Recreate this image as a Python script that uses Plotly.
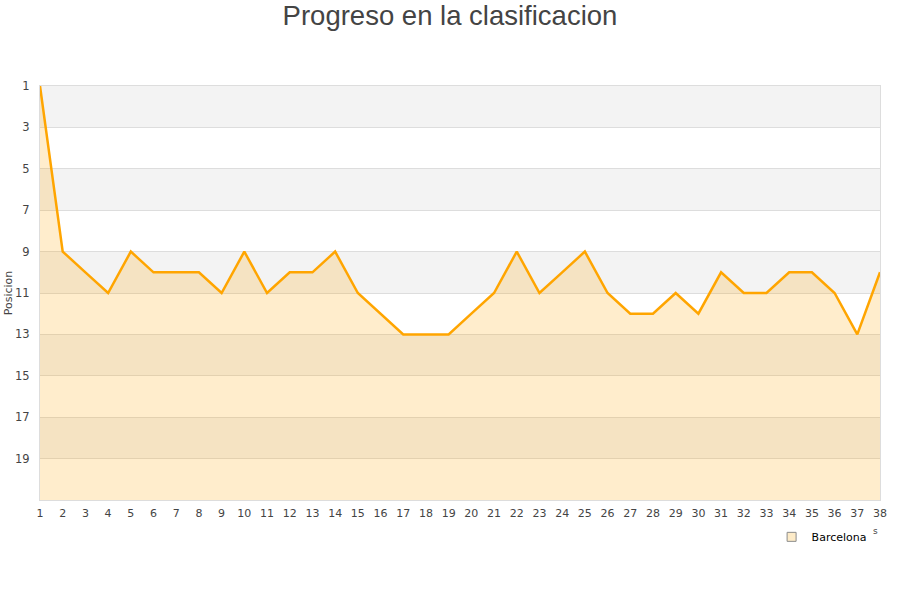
import plotly.graph_objects as go

jornadas = list(range(1, 39))
posiciones = [1, 9, 10, 11, 9, 10, 10, 10, 11, 9, 11, 10, 10, 9, 11, 12, 13, 13, 13, 12,
              11, 9, 11, 10, 9, 11, 12, 12, 11, 12, 10, 11, 11, 10, 10, 11, 13, 10]
equipo = "Barcelona"
y_ticks = list(range(1, 21, 2))
y_bottom = 21
band_starts = [1, 5, 9, 13, 17]

fig = go.Figure()
fig.add_trace(go.Scatter(x=jornadas, y=[y_bottom] * len(jornadas), mode="lines",
                         line=dict(width=0, color="rgba(0,0,0,0)"), showlegend=False,
                         hoverinfo="skip"))
fig.add_trace(go.Scatter(x=jornadas, y=posiciones, mode="lines", name=equipo,
                         line=dict(color="#FFA500", width=2.5), showlegend=False,
                         fill="tonexty", fillcolor="rgba(255,165,0,0.2)"))
# legend-only entry with square symbol
fig.add_trace(go.Scatter(x=[None], y=[None], mode="markers", name=equipo,
                         marker=dict(symbol="square", size=9, color="#FDEBC8",
                                     line=dict(color="#8C8C8C", width=1))))

shapes = []
for b in band_starts:
    shapes.append(dict(type="rect", xref="paper", yref="y", x0=0, x1=1, y0=b, y1=b + 2,
                       fillcolor="#F3F3F3", line=dict(width=0), layer="below"))

fig.update_layout(
    width=900, height=600,
    paper_bgcolor="white", plot_bgcolor="white",
    margin=dict(l=40, r=20, t=86, b=100, autoexpand=False),
    title=dict(text="Progreso en la clasificacion", x=0.5, xanchor="center",
               y=1 - 15 / 600, yanchor="middle", yref="container",
               font=dict(family="Liberation Sans, Arial", size=27.5, color="#444444")),
    font=dict(family="DejaVu Sans", size=11, color="#444444"),
    shapes=shapes,
    showlegend=True,
    legend=dict(x=0.99, xanchor="right", y=-0.089, yanchor="middle",
                font=dict(family="DejaVu Sans", size=11, color="#000000"),
                bgcolor="rgba(0,0,0,0)", itemwidth=30),
    annotations=[dict(text="s", xref="paper", yref="paper", x=1.0, y=-0.092,
                      showarrow=False, font=dict(size=9, color="#444444"))],
    xaxis=dict(range=[1, 38], tickvals=jornadas, ticktext=[str(j) for j in jornadas],
               showgrid=False, zeroline=False, showline=True, linecolor="#DDDDDD",
               mirror=True, ticks="", automargin=False, ticklabelstandoff=3,
               tickfont=dict(size=11, color="#444444")),
    yaxis=dict(range=[y_bottom, 1], tickvals=y_ticks, ticktext=[str(t) for t in y_ticks],
               showgrid=True, gridcolor="#DDDDDD", zeroline=False, showline=True,
               linecolor="#DDDDDD", mirror=True, ticks="", automargin=False,
               ticklabelstandoff=7,
               title=dict(text="Posicion", font=dict(size=11, color="#444444"), standoff=0),
               tickfont=dict(size=11.5, color="#444444")),
)

fig.write_html("out.html", config={"displayModeBar": False},
               post_script="document.body.style.margin='0';")
